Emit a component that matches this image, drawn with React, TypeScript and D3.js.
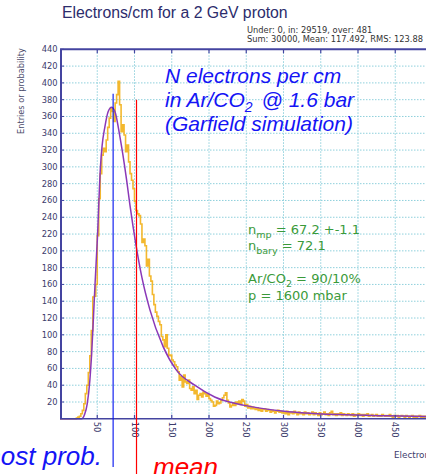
import React from "react";
import * as d3 from "d3";

// histogram of electrons per cm, 2-electron wide bins starting at 20
const histStart = 20;
const histBinWidth = 2;
const histCounts = [
  0, 1, 2, 3, 6, 10, 18, 30, 40, 55,
  75, 105, 145, 146, 160, 218, 262, 292, 314, 322,
  318, 332, 347, 358, 370, 366, 354, 376, 386, 402,
  374, 342, 350, 338, 318, 326, 306, 292, 284, 274,
  259, 248, 244, 242, 232, 210, 214, 206, 182, 190,
  170, 164, 148, 136, 127, 122, 116, 112, 98, 94,
  86, 100, 84, 75, 76, 70, 68, 64, 62, 56,
  46, 50, 38, 52, 44, 42, 46, 36, 34, 38,
  30, 34, 23, 28, 30, 26, 32, 30, 27, 29,
  24, 22, 20, 15, 16, 21, 18, 19, 22, 25,
  28, 31, 22, 19, 14, 16, 19, 16, 20, 18,
  21, 17, 23, 21, 15, 17, 13, 15, 12, 14,
  12, 11, 13, 10, 12, 9, 11, 12, 9, 11,
  10, 8, 10, 9, 7, 9, 10, 8, 9, 7,
  8, 6, 9, 5, 7, 8, 6, 9, 7, 5,
  8, 6, 7, 5, 8, 6, 7, 5, 6, 8,
  5, 7, 6, 4, 7, 5, 6, 8, 5, 6,
  4, 7, 9, 5, 6, 4, 6, 5, 7, 4,
  6, 5, 4, 6, 5, 4, 6, 3, 5, 4,
  6, 4, 5, 3, 5, 4, 6, 3, 4, 5,
  3, 4, 5, 3, 4, 3, 5, 4, 3, 4,
  3, 5, 3, 2, 4, 3, 4, 2, 3, 4,
  3, 2, 4, 3, 2, 3, 4, 2, 3, 2,
  3, 4, 2, 3, 2, 3, 2, 3, 2, 3,
];

// fitted curve
const fitX = [0, 29, 33, 36.6, 40, 42.5, 44.7, 47, 50.2, 54.3, 56.5, 60.3, 64.7, 69.2, 73.7, 80.4, 89.3, 93.8, 101.8, 110, 120.6, 138.4, 156.3, 180.8, 207.6, 247.8, 301, 328, 375, 440, 500];
const fitY = [0, 0, 5, 18, 45, 78, 117, 160, 215, 300, 325, 348, 366, 371, 366, 336, 285, 255, 208, 168, 130, 86, 58, 40, 26, 16, 9, 7, 5, 3.5, 2.5];

const yTicks = [20, 40, 60, 80, 100, 120, 140, 160, 180, 200, 220, 240, 260, 280, 300, 320, 340, 360, 380, 400, 420, 440];
const xTicks = [50, 100, 150, 200, 250, 300, 350, 400, 450];

const mostProb = { at: 71.3, top: 387 };
const meanMark = { at: 102.7, top: 380 };

const axisColor = "#4444a0";
const labelColor = "#3c3c6c";
const dejavu = "DejaVu Sans";
const arial = "Liberation Sans, Arial";

export default function App() {
  const width = 426, height = 474;
  const x = d3.scaleLinear().domain([0, 500]).range([60, 432.5]);
  const y = d3.scaleLinear().domain([0, 440]).range([418.8, 49.3]);

  const histPts: [number, number][] = [[0, 0]];
  histCounts.forEach((c, i) => histPts.push([histStart + i * histBinWidth, c]));
  histPts.push([500, histCounts[histCounts.length - 1]]);
  const histPath = d3.line<[number, number]>()
    .x(d => x(d[0]))
    .y(d => y(d[1]))
    .curve(d3.curveStepAfter)(histPts);

  const fitPath = d3.line<number>()
    .x((d, i) => x(fitX[i]))
    .y(d => y(d))
    .curve(d3.curveMonotoneX)(fitY);

  const x0 = x(0), x1 = x(500), y0 = y(0), yTop = y(440);

  return (
    <svg width={width} height={height} style={{ position: "absolute", left: 0, top: 0, background: "#fff" }}>
      {/* grid */}
      {yTicks.slice(0, -1).map(t => (
        <line key={"gy" + t} x1={x0} x2={x1} y1={y(t)} y2={y(t)} stroke="#8fd0dc" strokeWidth={1} strokeDasharray="1.5,1.5" />
      ))}
      {xTicks.map(t => (
        <line key={"gx" + t} x1={x(t)} x2={x(t)} y1={yTop} y2={y0} stroke="#8fd0dc" strokeWidth={1} strokeDasharray="1.5,1.5" />
      ))}

      <path d={histPath || ""} fill="none" stroke="#f2b21c" strokeWidth={1.6} strokeOpacity={0.92} />
      <path d={fitPath || ""} fill="none" stroke="#8a38b8" strokeWidth={1.5} />

      {/* frame */}
      <line x1={x0} x2={x1} y1={yTop} y2={yTop} stroke={axisColor} strokeWidth={2} />
      <line x1={x0 + 1} x2={x0 + 1} y1={yTop} y2={y0} stroke={axisColor} strokeWidth={2} />
      <line x1={x0} x2={x1} y1={y0} y2={y0} stroke={axisColor} strokeWidth={1.5} />
      {xTicks.map(t => (
        <g key={"tx" + t}>
          <line x1={x(t)} x2={x(t)} y1={yTop} y2={yTop + 4} stroke={axisColor} strokeWidth={1.2} />
          <line x1={x(t)} x2={x(t)} y1={y0} y2={y0 - 4} stroke={axisColor} strokeWidth={1.2} />
          <text transform={`translate(${x(t)},${y0 + 3}) rotate(90)`} dy="0.35em" fontFamily={dejavu} fontSize={8.3} fill={labelColor}>{t}</text>
        </g>
      ))}
      {yTicks.map(t => (
        <g key={"ty" + t}>
          <line x1={x0 + 1} x2={x0 + 4} y1={y(t)} y2={y(t)} stroke={axisColor} strokeWidth={1} />
          <text x={57.5} y={y(t)} dy="0.35em" textAnchor="end" fontFamily={dejavu} fontSize={8.3} fill={labelColor}>{t}</text>
        </g>
      ))}

      {/* markers */}
      <line x1={x(mostProb.at)} x2={x(mostProb.at)} y1={y(mostProb.top)} y2={467} stroke="#0010ee" strokeWidth={1.1} />
      <line x1={x(meanMark.at)} x2={x(meanMark.at)} y1={y(meanMark.top)} y2={height} stroke="#ff0000" strokeWidth={1.2} />

      {/* titles */}
      <text x={62} y={18} fontFamily={arial} fontSize={15.8} fill="#2c2c6c">Electrons/cm for a 2 GeV proton</text>
      <text x={247} y={33} fontFamily={dejavu} fontSize={8.3} fill="#333">Under: 0, in: 29519, over: 481</text>
      <text x={247} y={41.5} fontFamily={dejavu} fontSize={8.3} fill="#333">Sum: 30000, Mean: 117.492, RMS: 123.88</text>
      <text transform="translate(24,91) rotate(-90)" textAnchor="middle" fontFamily={dejavu} fontSize={8.2} fill="#4a4a6a">Entries or probability</text>
      <text x={394} y={458} fontFamily={dejavu} fontSize={8.8} fill={labelColor}>Electrons/cm</text>

      {/* annotations */}
      <g fontFamily={arial} fontStyle="italic" fontSize={21} fill="#1414f5">
        <text x={165} y={83}>N electrons per cm</text>
        <text x={165} y={107}>in Ar/CO<tspan fontSize={14} dy={5}>2</tspan><tspan dx={9} dy={-5}>@ 1.6 bar</tspan></text>
        <text x={165} y={131}>(Garfield simulation)</text>
      </g>
      <text x={102} y={465} textAnchor="end" fontFamily={arial} fontStyle="italic" fontSize={26} fill="#1414f5">most prob.</text>
      <text x={153} y={476} fontFamily={arial} fontStyle="italic" fontSize={26} fill="#ff0000">mean</text>

      <g fontFamily={dejavu} fontSize={13} fill="#3a9a3a">
        <text x={248} y={234}>n<tspan fontSize={9.5} dy={4}>mp</tspan><tspan dy={-4}> = 67.2 +-1.1</tspan></text>
        <text x={248} y={250}>n<tspan fontSize={9.5} dy={4}>bary</tspan><tspan dy={-4}> = 72.1</tspan></text>
        <text x={248} y={283}>Ar/CO<tspan fontSize={9.5} dy={4}>2</tspan><tspan dy={-4}> = 90/10%</tspan></text>
        <text x={248} y={300}>p = 1600 mbar</text>
      </g>
    </svg>
  );
}
